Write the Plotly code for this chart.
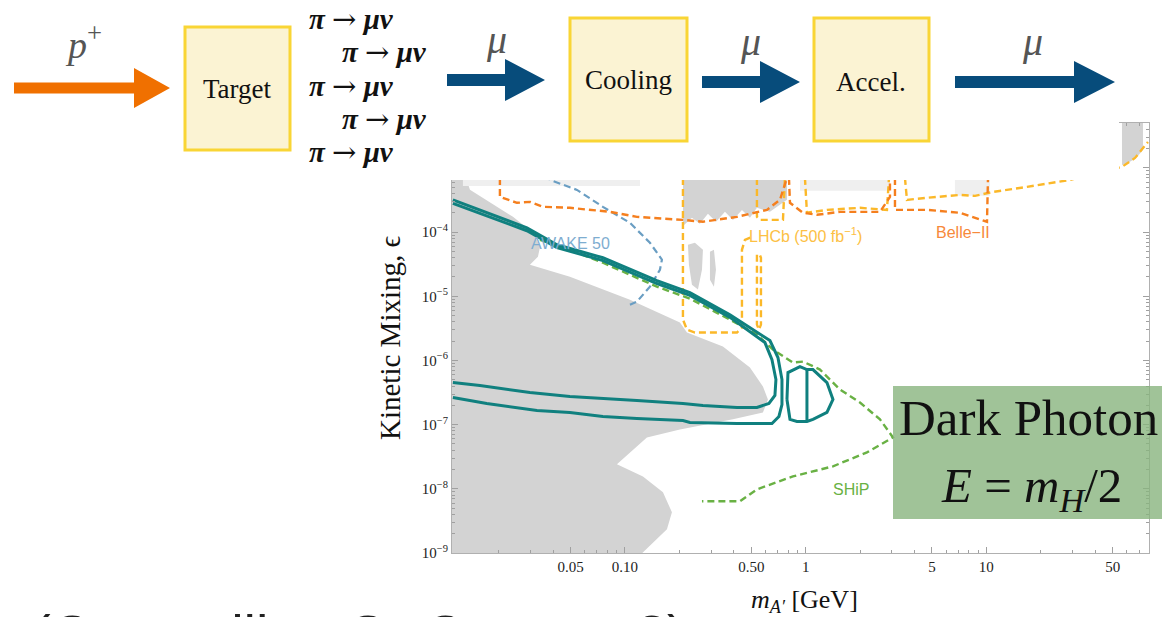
import plotly.graph_objects as go

# ---------------- data: dark-photon mass [GeV] and kinetic mixing epsilon ----------------
excl_mass = [0.0105, 0.0105, 0.0133, 0.0133, 0.01388, 0.0240, 0.0310, 0.0339, 0.0330, 0.0298, 0.0496,
             0.1066, 0.2015, 0.2204, 0.3484, 0.4918, 0.5802, 0.6185, 0.5802, 0.3960, 0.2015, 0.1323,
             0.0903, 0.1258, 0.1623, 0.1820, 0.1708, 0.1258, 0.120, 0.0105]
excl_eps = [9e-10, 6e-3, 6e-3, 6.51e-4, 4.55e-4, 1.73e-4, 9.75e-5, 5.9e-5, 4.13e-5, 3.10e-5, 2.02e-5,
            8.86e-6, 3.89e-6, 2.72e-6, 1.645e-6, 7.75e-7, 3.93e-7, 2.47e-7, 1.55e-7, 1.21e-7, 8.42e-8, 6.32e-8,
            2.41e-8, 1.56e-8, 8.82e-9, 4.31e-9, 2.35e-9, 1.03e-9, 9e-10, 9e-10]

top_mass = [0.2094, 0.2094, 0.2349, 0.2598, 0.2879, 0.3189, 0.3577, 0.3960, 0.4441, 0.4918, 0.5376, 0.6344, 0.7881, 0.7881]
top_eps = [6e-3, 1.25e-4, 1.67e-4, 1.35e-4, 1.93e-4, 1.45e-4, 2.07e-4, 1.55e-4, 2.22e-4, 1.67e-4, 2.39e-4, 2.07e-4, 3.18e-4, 6e-3]

spike_mass = [0.01269, 0.01269, 0.1211, 0.1211, None, 0.930, 0.930, 2.928, 2.928, None, 6.70, 6.70, 10.47, 10.47]
spike_eps = [6e-3, 5.25e-4, 5.25e-4, 6e-3, None, 6e-3, 4.39e-4, 4.39e-4, 6e-3, None, 6e-3, 3.67e-4, 3.67e-4, 6e-3]

blob_mass = [0.2232, 0.2439, 0.2702, 0.2668, 0.2535, 0.2349, 0.2260, None, 0.2954, 0.3108, 0.3189, 0.3108, 0.2954]
blob_eps = [6.35e-5, 6.82e-5, 5.30e-5, 2.59e-5, 1.27e-5, 1.515e-5, 3.10e-5, None, 4.94e-5, 5.30e-5, 2.59e-5, 1.41e-5, 1.81e-5]

hi_mass = [56.29, 73.55, 73.55, 67.3, 60.76, 56.29]
hi_eps = [6e-3, 6e-3, 1.905e-3, 1.43e-3, 1.196e-3, 1.113e-3]

awake_mass = [0.03607, 0.03846, 0.05425, 0.07553, 0.1066, 0.1375, 0.1602, 0.1562, 0.1375, 0.1165, 0.1066]
awake_eps = [7.78e-4, 6.51e-4, 4.55e-4, 2.475e-4, 1.395e-4, 6.82e-5, 3.71e-5, 2.59e-5, 1.41e-5, 8.24e-6, 7.40e-6]

lhcb_mass = [0.2094, 0.2094, 0.2204, 0.2439, 0.4168, 0.4441, 0.4441, 0.4614, 0.5045, None,
             0.5376, 0.5376, 0.5516, 0.5658, 0.5658, 0.5516, None,
             0.5376, 0.5376, 0.5585, 0.7489, 0.7683, None,
             0.9911, 1.0167, 1.3118, 1.998, 2.818, 2.891, None,
             3.544, 3.636, 4.692, 7.144, 8.650, 10.88, 16.78, 29.01, 56.29, 66.44, 78.41]
lhcb_eps = [6.99e-4, 4.33e-6, 3.02e-6, 2.72e-6, 2.72e-6, 3.25e-6, 5.30e-5, 7.59e-5, 8.45e-5, None,
            4.44e-5, 3.62e-6, 3.02e-6, 3.62e-6, 3.98e-5, 4.77e-5, None,
            6.99e-4, 1.73e-4, 1.55e-4, 1.55e-4, 6.99e-4, None,
            6.99e-4, 2.0e-4, 2.22e-4, 2.39e-4, 2.22e-4, 6.99e-4, None,
            6.99e-4, 3.18e-4, 3.42e-4, 3.80e-4, 3.67e-4, 4.23e-4, 5.06e-4, 6.51e-4, 1.04e-3, 1.43e-3, 2.54e-3]

belle_mass = [0.02033, 0.02033, 0.02526, 0.0298, 0.03517, 0.0496, 0.0826, 0.1165, 0.2094, 0.2702, 0.4168, 0.6106, 0.7206, 0.7881, None,
              0.8084, 0.8188, 0.9663, 1.1548, 1.548, 2.578, 2.928, 2.928, None,
              3.121, 3.121, 3.636, 4.692, 7.144, 9.218, 10.08, 10.21]
belle_eps = [6.99e-4, 3.54e-4, 2.86e-4, 2.96e-4, 2.48e-4, 2.39e-4, 2.07e-4, 1.73e-4, 1.55e-4, 1.45e-4, 1.73e-4, 2.22e-4, 3.18e-4, 6.99e-4, None,
             6.99e-4, 2.86e-4, 2.0e-4, 1.86e-4, 2.07e-4, 2.07e-4, 3.54e-4, 6.99e-4, None,
             6.99e-4, 2.22e-4, 2.22e-4, 2.22e-4, 2.0e-4, 1.55e-4, 1.45e-4, 6.99e-4]

ship_mass = [0.03386, 0.0496, 0.0755, 0.1503, 0.2289, 0.3812, 0.5376, 0.6592, 0.8506, 0.9663, 1.1998, 1.548, 1.998,
             2.578, 3.042, 2.184, 1.416, 0.8506, 0.5376, 0.4328, 0.2668]
ship_eps = [7.59e-5, 5.30e-5, 3.33e-5, 1.41e-5, 9.18e-6, 4.33e-6, 2.53e-6, 1.48e-6, 9.28e-7, 9.61e-7, 7.22e-7, 3.53e-7, 2.21e-7,
            1.21e-7, 6.32e-8, 3.70e-8, 2.24e-8, 1.56e-8, 9.82e-9, 6.39e-9, 6.39e-9]

mu_outer_mass = [0.01117, 0.01576, 0.02869, 0.04205, 0.07553, 0.1503, 0.2289, 0.3812, 0.6344, 0.7025, 0.7394, 0.7394, 0.7115,
                 0.6510, 0.4168, 0.2289, 0.2094, 0.1165, 0.0755, 0.0496, 0.0326, 0.0172, 0.01117]
mu_outer_eps = [3.18e-4, 2.22e-4, 1.166e-4, 6.35e-5, 3.98e-5, 1.75e-5, 1.14e-5, 5.17e-6, 2.04e-6, 1.109e-6, 5.04e-7, 2.06e-7, 1.34e-7,
                1.044e-7, 1.044e-7, 1.08e-7, 1.16e-7, 1.25e-7, 1.34e-7, 1.55e-7, 1.66e-7, 2.14e-7, 2.65e-7]

mu_inner_mass = [0.01117, 0.01576, 0.02869, 0.04205, 0.07553, 0.1503, 0.2289, 0.3812, 0.5953, 0.6510, 0.6848, 0.6761, 0.6263,
                 0.5376, 0.4168, 0.2702, 0.2094, 0.1165, 0.0755, 0.0496, 0.0298, 0.01576, 0.01117]
mu_inner_eps = [2.80e-4, 1.96e-4, 1.05e-4, 5.75e-5, 3.60e-5, 1.58e-5, 1.03e-5, 4.70e-6, 1.90e-6, 1.03e-6, 5.04e-7, 2.85e-7, 2.14e-7,
                1.85e-7, 1.85e-7, 1.99e-7, 2.14e-7, 2.38e-7, 2.56e-7, 2.75e-7, 3.17e-7, 4.07e-7, 4.53e-7]

lobe_mass = [0.7881, 0.7982, 0.9300, 1.0167, 1.0975, 1.3118, 1.4163, 1.3118, 1.0975, 1.0167, 0.8951, 0.8188, 0.7881, None, 1.0167, 1.0167]
lobe_eps = [2.47e-7, 6.48e-7, 8.04e-7, 7.22e-7, 7.22e-7, 4.53e-7, 2.47e-7, 1.55e-7, 1.21e-7, 1.12e-7, 1.12e-7, 1.21e-7, 2.47e-7, None, 7.22e-7, 1.12e-7]

x_tickvals = [0.05, 0.1, 0.5, 1, 5, 10, 50]
x_ticktext = ["0.05", "0.10", "0.50", "1", "5", "10", "50"]
x_minor = [0.02, 0.03, 0.04, 0.06, 0.07, 0.08, 0.09, 0.2, 0.3, 0.4, 0.6, 0.7, 0.8, 0.9,
           2, 3, 4, 6, 7, 8, 9, 20, 30, 40, 60, 70]
y_exponents = [-9, -8, -7, -6, -5, -4, -3]
y_tickvals = [10.0 ** e for e in y_exponents]
y_ticktext = [f"10<sup>\u2212{-e}</sup>" for e in y_exponents]
y_minor = [k * 10.0 ** e for e in y_exponents for k in range(2, 10)]

labels = ["AWAKE 50", "LHCb (500 fb<sup>\u22121</sup>)", "Belle\u2212II", "SHiP"]

# ---------------- figure ----------------
W, H = 1162, 617
L, R, T, B = 452, 1149, 123, 553


def px(x):
    return (x - L) / (R - L)


def py(y):
    return (B - y) / (B - T)


GREY = "#d3d3d3"
TEAL = "#10807f"
fig = go.Figure()


def fill(xs, ys, color):
    fig.add_trace(go.Scatter(x=xs, y=ys, mode="lines", fill="toself", fillcolor=color,
                             line=dict(width=0, color=color), hoverinfo="skip", showlegend=False))


def line(xs, ys, color, width, dash=None):
    fig.add_trace(go.Scatter(x=xs, y=ys, mode="lines", line=dict(color=color, width=width, dash=dash),
                             connectgaps=False, hoverinfo="skip", showlegend=False))


fill(excl_mass, excl_eps, GREY)
fill(spike_mass, spike_eps, "#efefef")
fill(top_mass, top_eps, GREY)
fill(blob_mass, blob_eps, GREY)
fill(hi_mass, hi_eps, GREY)

DASH = "7px,4px"
line(awake_mass, awake_eps, "#6a9ec3", 2.2, DASH)
line(lhcb_mass, lhcb_eps, "#fbb829", 2.4, DASH)
line(belle_mass, belle_eps, "#f57f1e", 2.4, DASH)
line(ship_mass, ship_eps, "#69b144", 2.4, DASH)
line(mu_outer_mass, mu_outer_eps, TEAL, 3)
line(mu_inner_mass, mu_inner_eps, TEAL, 3)
line(lobe_mass, lobe_eps, TEAL, 3)

SERIF = "Liberation Serif"
SANS = "Liberation Sans"
axis_common = dict(showgrid=False, zeroline=False, showline=True, linecolor="#b0b0b0", linewidth=1,
                   mirror="allticks", ticks="inside", ticklen=6, tickcolor="#a0a0a0", tickwidth=1,
                   tickfont=dict(family=SERIF, size=15, color="#222"))
fig.update_xaxes(type="log", range=[-1.957, 1.900], tickvals=x_tickvals, ticktext=x_ticktext,
                 minor=dict(tickvals=x_minor, ticks="inside", ticklen=3, tickcolor="#a0a0a0"), **axis_common)
fig.update_yaxes(type="log", range=[-9.0, -2.3], tickvals=y_tickvals, ticktext=y_ticktext,
                 minor=dict(tickvals=y_minor, ticks="inside", ticklen=3, tickcolor="#a0a0a0"), **axis_common)

shapes = []
# white diagram background covering the top of the plot
shapes.append(dict(type="rect", xref="paper", yref="paper", x0=px(0), x1=px(1119), y0=py(180), y1=py(-5),
                   fillcolor="white", line=dict(width=0), layer="above"))


def box(x0, y0, x1, y1):
    shapes.append(dict(type="rect", xref="paper", yref="paper", x0=px(x0), x1=px(x1), y0=py(y1), y1=py(y0),
                       fillcolor="#fbf3d3", line=dict(color="#f9d535", width=3), layer="above"))


def arrow(x0, x1, xh, yc, half_shaft, half_head, color):
    pts = [(x0, yc - half_shaft), (xh, yc - half_shaft), (xh, yc - half_head), (x1, yc),
           (xh, yc + half_head), (xh, yc + half_shaft), (x0, yc + half_shaft)]
    path = "M " + " L ".join(f"{px(a):.5f},{py(b):.5f}" for a, b in pts) + " Z"
    shapes.append(dict(type="path", xref="paper", yref="paper", path=path, fillcolor=color,
                       line=dict(width=0), layer="above"))


arrow(14, 170, 134, 88, 5.5, 20, "#f07000")
box(185, 27, 290, 150)
arrow(447, 545, 505, 80, 6, 21, "#074c7b")
box(570, 18, 687, 141)
arrow(702, 800, 760, 82, 6, 21, "#074c7b")
box(814, 18, 929, 141)
arrow(955, 1115, 1074, 82, 6, 21, "#074c7b")
# green label box
shapes.append(dict(type="rect", xref="paper", yref="paper", x0=px(893), x1=px(1170), y0=py(519), y1=py(386),
                   fillcolor="rgba(136,180,126,0.80)", line=dict(width=0), layer="above"))

ann = []


def text(x, y, s, size, color="#111", family=SERIF, angle=0, xanchor="center", yanchor="middle"):
    ann.append(dict(xref="paper", yref="paper", x=px(x), y=py(y), text=s, showarrow=False,
                    font=dict(family=family, size=size, color=color), textangle=angle,
                    xanchor=xanchor, yanchor=yanchor))


# diagram texts
text(83, 42, "<i>p</i><sup>+</sup>", 38, "#555")
text(237, 89, "Target", 27)
text(628, 80, "Cooling", 27)
text(871, 82, "Accel.", 27)
text(496, 40, "<i>\u03bc</i>", 40, "#555")
text(750, 41, "<i>\u03bc</i>", 40, "#555")
text(1032, 41, "<i>\u03bc</i>", 40, "#555")
pimu = ("<b><i>\u03c0</i></b> <span style='font-family:DejaVu Serif'>\u2192</span> "
        "<b><i>\u03bc\u03bd</i></b>")
for (xs, ys) in [(307, 19), (340, 52), (307, 86), (340, 119), (307, 152)]:
    text(xs, ys, pimu, 29, "#111", xanchor="left")

# curve labels
text(570, 243, labels[0], 16, "#7eadd0", SANS)
text(805, 235, labels[1], 16, "#fcc044", SANS)
text(963, 232, labels[2], 16, "#f7893a", SANS)
text(851, 489, labels[3], 16, "#69b144", SANS)

# axis titles
text(390, 338, "Kinetic Mixing, \u03f5", 29, "#111", angle=-90)
text(804, 601, "<i>m</i><sub><i>A\u2032</i></sub> [GeV]", 26, "#111")

# green box text
text(1028, 418, "Dark Photon", 51, "#111")
text(1031, 488, "<i>E</i> = <i>m</i><sub><i>H</i></sub>/2", 49, "#111")

# slide text cut at the bottom edge
text(30, 601, "(Compelling Or Concern?)", 56, "#222", SANS, xanchor="left", yanchor="top")

fig.update_layout(width=W, height=H, margin=dict(l=L, r=W - R, t=T, b=H - B, pad=0),
                  paper_bgcolor="white", plot_bgcolor="white", showlegend=False,
                  shapes=shapes, annotations=ann)

fig.write_html("out.html", config={"displayModeBar": False},
               post_script="document.body.style.margin='0';document.body.style.padding='0';")
